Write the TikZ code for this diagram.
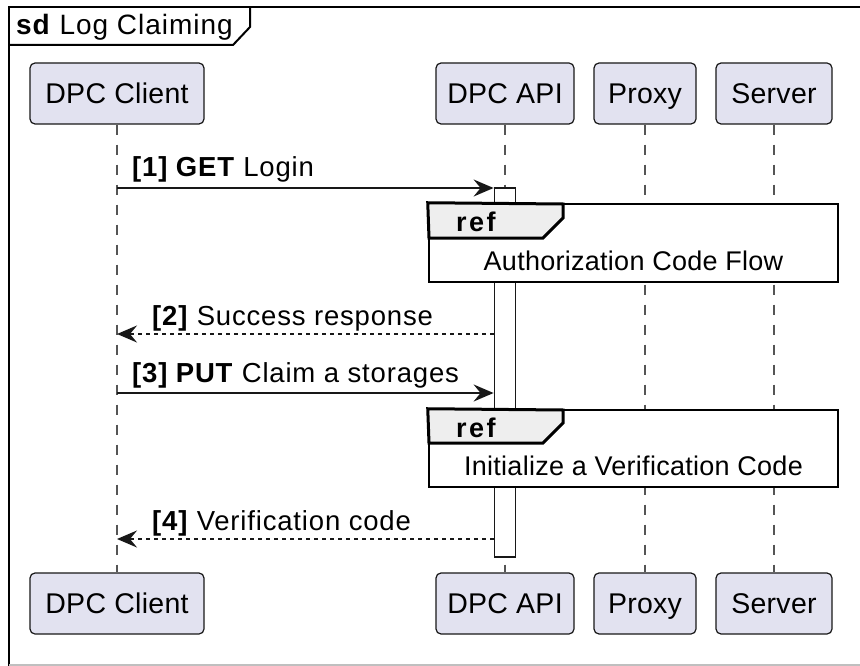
\documentclass[tikz,border=0pt]{standalone}
\usepackage{fontspec}
\setmainfont{Liberation Sans}
\usetikzlibrary{arrows.meta}
\definecolor{ink}{HTML}{181818}
\definecolor{partfill}{HTML}{E2E2F0}
\definecolor{tabfill}{HTML}{EEEEEE}
\definecolor{lifegrey}{HTML}{555555}
\tikzset{
  participant/.style={draw=ink, line width=1.2pt, fill=partfill, rounded corners=5pt,
    minimum height=61pt, inner sep=0pt, text height=20.5pt, text depth=0pt,
    font=\fontsize{28.5}{30}\selectfont\addfontfeature{LetterSpace=1}, text=black},
  lifeline/.style={draw=lifegrey, line width=1.2pt, dash pattern=on 10pt off 10pt},
  msg/.style={draw=ink, line width=1.8pt, -{Stealth[length=20pt, width=17pt, inset=7pt]}},
  reply/.style={msg, dash pattern=on 4pt off 4pt},
  msglabel/.style={anchor=base west, inner sep=0pt, font=\fontsize{27.5}{30}\selectfont\addfontfeature{LetterSpace=3}},
  activation/.style={draw=ink, line width=1.8pt, fill=white, inner sep=0pt},
  refbox/.style={draw=black, line width=2.5pt, fill=white, inner sep=0pt},
  reftab/.style={draw=black, line width=3pt, fill=tabfill, line join=miter},
  reftext/.style={anchor=base, inner sep=0pt, font=\fontsize{27}{30}\selectfont\addfontfeature{LetterSpace=1}},
  reftag/.style={anchor=base west, inner sep=0pt, font=\fontsize{27}{30}\selectfont\bfseries\addfontfeature{LetterSpace=9}},
}
\begin{document}
\begin{tikzpicture}[x=1pt, y=-1pt]
\useasboundingbox (0,0) rectangle (860,666);
\fill[white] (0,0) rectangle (860,666);

% diagram frame with title tab
\draw[black, line width=2pt] (9,670) -- (9,7) -- (870,7);
\draw[gray!50, line width=1.5pt] (9,665) -- (860,665);
\draw[black, line width=2pt] (9,45) -- (233,45) -- (250,27) -- (250,7);
\node[anchor=base west, inner sep=0pt, font=\fontsize{28}{30}\selectfont\addfontfeature{LetterSpace=3.5}] (title) at (16,35) {\textbf{sd} Log Claiming};

% participants, top row
\node[participant, minimum width=174pt] (client) at (117,93.5) {DPC Client};
\node[participant, minimum width=138pt] (api)    at (505,93.5) {DPC API};
\node[participant, minimum width=102pt] (proxy)  at (645,93.5) {Proxy};
\node[participant, minimum width=116pt] (server) at (774,93.5) {Server};
% participants, bottom row
\node[participant, minimum width=174pt] (clientb) at (117,603.5) {DPC Client};
\node[participant, minimum width=138pt] (apib)    at (505,603.5) {DPC API};
\node[participant, minimum width=102pt] (proxyb)  at (645,603.5) {Proxy};
\node[participant, minimum width=116pt] (serverb) at (774,603.5) {Server};

% lifelines
\draw[lifeline] (client) -- (clientb);
\draw[lifeline] (api) -- (apib);
\draw[lifeline] (proxy) -- (proxyb);
\draw[lifeline] (server) -- (serverb);

% activation of DPC API
\node[activation, minimum width=21pt, minimum height=369pt] (act) at (505,372.5) {};

% message rows
\coordinate (r1) at (0,188);
\coordinate (r2) at (0,334);
\coordinate (r3) at (0,393);
\coordinate (r4) at (0,539);

\draw[msg] (client |- r1) -- (act.west |- r1);
\node[msglabel] (l1) at (132,177) {\textbf{[1] GET} Login};

% ref: Authorization Code Flow
\node[refbox, minimum width=409pt, minimum height=78pt] (ref1) at (633.5,243) {};
\draw[reftab] (ref1.north west) -- (563,204) -- (563,218) -- (543,238) -- (429,238) -- cycle;
\node[reftag] (tag1) at (456,232) {ref};
\node[reftext] (t1) at (633.5,270) {Authorization Code Flow};

\draw[reply] (act.west |- r2) -- (client |- r2);
\node[msglabel] (l2) at (152,325) {\textbf{[2]} Success response};

\draw[msg] (client |- r3) -- (act.west |- r3);
\node[msglabel] (l3) at (132,382) {\textbf{[3] PUT} Claim a storages};

% ref: Initialize a Verification Code
\node[refbox, minimum width=409pt, minimum height=77pt] (ref2) at (633.5,448.5) {};
\draw[reftab] (ref2.north west) -- (563,410) -- (563,423) -- (543,443) -- (429,443) -- cycle;
\node[reftag] (tag2) at (456,437) {ref};
\node[reftext] (t2) at (633.5,475) {Initialize a Verification Code};

\draw[reply] (act.west |- r4) -- (client |- r4);
\node[msglabel] (l4) at (152,530) {\textbf{[4]} Verification code};
\end{tikzpicture}
\end{document}
